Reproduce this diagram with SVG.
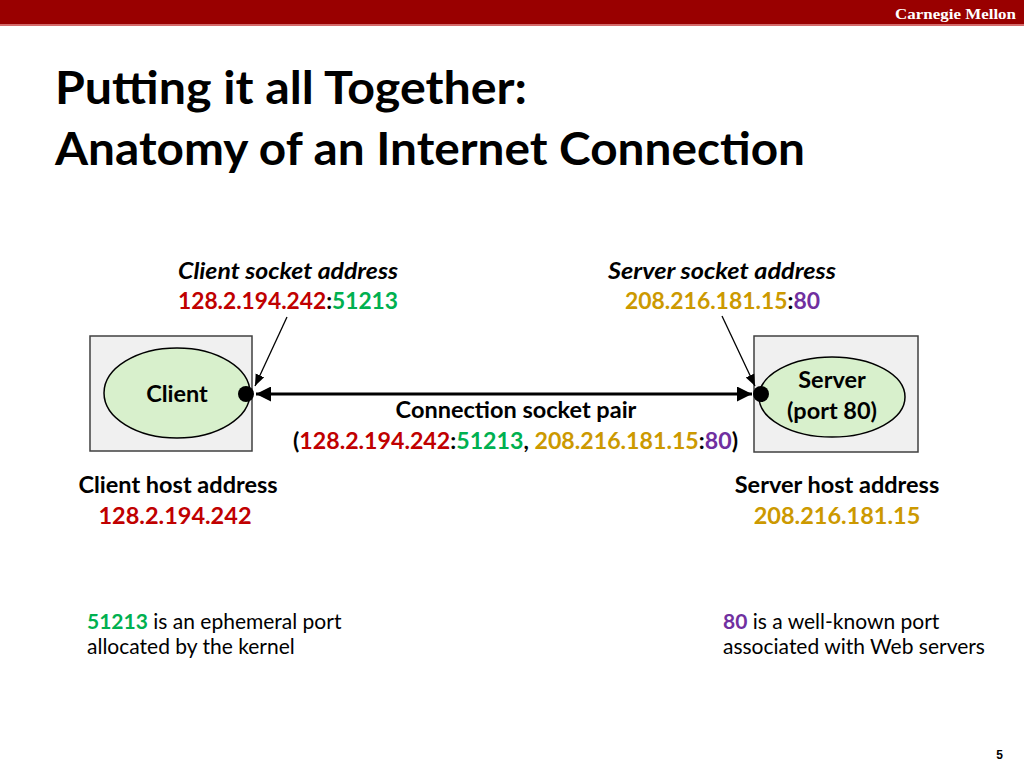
<svg xmlns="http://www.w3.org/2000/svg" width="1024" height="768" viewBox="0 0 1024 768">
<defs>
<style>
.t{font-family:Lato,"Open Sans","Liberation Sans",sans-serif;fill:#000}
.b{font-weight:bold}
.i{font-style:italic}
.r{fill:#c00000}
.g{fill:#00b050}
.y{fill:#cc9900}
.p{fill:#7030a0}
.box{fill:#f0f0f0;stroke:#404040;stroke-width:1.5}
.ell{fill:#d8f0cc;stroke:#000;stroke-width:1.5}
</style>
<marker id="ah" viewBox="0 0 10 10" refX="10" refY="5" markerWidth="5" markerHeight="5" orient="auto-start-reverse" markerUnits="strokeWidth">
<path d="M0,0 L10,5 L0,10 z" fill="#000"/>
</marker>
<marker id="ah2" viewBox="0 0 10 10" refX="10" refY="5" markerWidth="9" markerHeight="9" orient="auto" markerUnits="strokeWidth">
<path d="M0,1 L10,5 L0,9 z" fill="#000"/>
</marker>
</defs>
<rect width="1024" height="768" fill="#fff"/>
<rect x="0" y="0" width="1024" height="24" fill="#990000"/>
<rect x="0" y="24" width="1024" height="2" fill="#d46a6a"/>
<text x="1016" y="19" text-anchor="end" font-family="'Liberation Serif',serif" font-weight="bold" font-size="15" fill="#fff" textLength="121" lengthAdjust="spacingAndGlyphs">Carnegie Mellon</text>

<text class="t b" x="55" y="104" font-size="45" textLength="472" lengthAdjust="spacingAndGlyphs">Putting it all Together:</text>
<text class="t b" x="55" y="165" font-size="45" textLength="750" lengthAdjust="spacingAndGlyphs">Anatomy of an Internet Connection</text>

<g id="client-socket-label">
<text class="t b i" x="178" y="279" font-size="23.5" textLength="220" lengthAdjust="spacingAndGlyphs">Client socket address</text>
<text class="t b" x="178" y="309" font-size="23.5" textLength="220" lengthAdjust="spacingAndGlyphs"><tspan class="r">128.2.194.242</tspan>:<tspan class="g">51213</tspan></text>
</g>
<g id="server-socket-label">
<text class="t b i" x="608" y="279" font-size="23.5" textLength="228" lengthAdjust="spacingAndGlyphs">Server socket address</text>
<text class="t b" x="625" y="309" font-size="23.5" textLength="195" lengthAdjust="spacingAndGlyphs"><tspan class="y">208.216.181.15</tspan>:<tspan class="p">80</tspan></text>
</g>

<g id="client">
<rect class="box" x="90" y="336" width="162" height="115"/>
<ellipse class="ell" cx="177" cy="393" rx="73" ry="45"/>
<text class="t b" x="177" y="402" font-size="23.5" text-anchor="middle">Client</text>
</g>
<g id="server">
<rect class="box" x="754" y="336" width="164" height="116"/>
<ellipse class="ell" cx="832" cy="397" rx="73" ry="40"/>
<text class="t b" x="832" y="388" font-size="23.5" text-anchor="middle">Server</text>
<text class="t b" x="832" y="419" font-size="23.5" text-anchor="middle">(port 80)</text>
</g>

<g id="connectors">
<line x1="256" y1="394" x2="752" y2="394" stroke="#000" stroke-width="3" marker-start="url(#ah)" marker-end="url(#ah)"/>
<line x1="287" y1="317" x2="255" y2="386" stroke="#000" stroke-width="1.3" marker-end="url(#ah2)"/>
<line x1="722" y1="316" x2="755" y2="386" stroke="#000" stroke-width="1.3" marker-end="url(#ah2)"/>
<circle cx="246" cy="394" r="8" fill="#000"/>
<circle cx="761" cy="394" r="8" fill="#000"/>
</g>

<g id="socket-pair-label">
<text class="t b" x="516" y="418" font-size="23.5" text-anchor="middle">Connection socket pair</text>
<text class="t b" x="293" y="449" font-size="23.5" textLength="445" lengthAdjust="spacingAndGlyphs">(<tspan class="r">128.2.194.242</tspan>:<tspan class="g">51213</tspan>, <tspan class="y">208.216.181.15</tspan>:<tspan class="p">80</tspan>)</text>
</g>

<g id="client-host-label">
<text class="t b" x="178" y="493" font-size="23.5" text-anchor="middle">Client host address</text>
<text class="t b r" x="175" y="524" font-size="23.5" text-anchor="middle">128.2.194.242</text>
</g>
<g id="server-host-label">
<text class="t b" x="837" y="493" font-size="23.5" text-anchor="middle">Server host address</text>
<text class="t b y" x="837" y="524" font-size="23.5" text-anchor="middle">208.216.181.15</text>
</g>

<g id="notes">
<text class="t" x="87" y="629" font-size="21"><tspan class="b g">51213</tspan> is an ephemeral port</text>
<text class="t" x="87" y="654" font-size="21">allocated by the kernel</text>
<text class="t" x="723" y="629" font-size="21"><tspan class="b p">80</tspan> is a well-known port</text>
<text class="t" x="723" y="654" font-size="21">associated with Web servers</text>
</g>

<text x="1003" y="759" text-anchor="end" font-family="'Liberation Sans',sans-serif" font-weight="bold" font-size="12" fill="#000">5</text>
</svg>
